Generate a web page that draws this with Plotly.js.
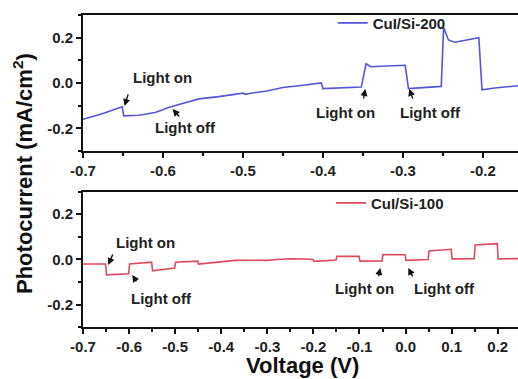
<!DOCTYPE html>
<html>
<head>
<meta charset="utf-8">
<script src="https://cdn.plot.ly/plotly-3.0.1.min.js"></script>
<style>html,body{margin:0;padding:0;background:#fff;}#chart{width:518px;height:379px;}</style>
</head>
<body>
<div id="chart"></div>
<script>
// CuI/Si-200 (top panel)
var v200 = [-0.700,-0.675,-0.651,-0.649,-0.630,-0.610,-0.600,-0.595,-0.580,-0.555,-0.530,-0.510,-0.500,-0.497,-0.490,-0.470,-0.450,-0.430,-0.402,-0.400,-0.380,-0.352,-0.346,-0.340,-0.320,-0.297,-0.293,-0.270,-0.252,-0.249,-0.243,-0.235,-0.220,-0.205,-0.201,-0.185,-0.156];
var j200 = [-0.160,-0.135,-0.105,-0.145,-0.142,-0.130,-0.118,-0.110,-0.095,-0.070,-0.060,-0.050,-0.045,-0.050,-0.045,-0.035,-0.020,-0.012,0.000,-0.025,-0.022,-0.018,0.085,0.072,0.075,0.078,-0.025,-0.020,-0.015,0.245,0.190,0.180,0.190,0.200,-0.030,-0.022,-0.012];
// CuI/Si-100 (bottom panel)
var v100 = [-0.700,-0.651,-0.649,-0.620,-0.601,-0.599,-0.575,-0.551,-0.549,-0.525,-0.501,-0.499,-0.475,-0.451,-0.449,-0.425,-0.400,-0.370,-0.330,-0.300,-0.280,-0.250,-0.220,-0.201,-0.199,-0.170,-0.151,-0.149,-0.120,-0.101,-0.099,-0.075,-0.051,-0.049,-0.020,-0.001,0.001,0.030,0.049,0.051,0.080,0.099,0.101,0.130,0.149,0.151,0.180,0.199,0.201,0.244];
var j100 = [-0.020,-0.020,-0.068,-0.066,-0.063,-0.020,-0.015,-0.012,-0.050,-0.045,-0.038,-0.012,-0.010,-0.007,-0.020,-0.015,-0.010,-0.004,-0.003,-0.004,0.000,0.003,0.002,0.000,-0.008,-0.004,-0.002,0.014,0.016,0.014,-0.007,-0.007,-0.006,0.022,0.023,0.021,-0.004,-0.002,0.000,0.038,0.043,0.045,0.003,0.003,0.004,0.064,0.068,0.070,0.003,0.004];
var names = ['CuI/Si-200','CuI/Si-100'];
// tick labels
var xTopVals = [-0.7,-0.6,-0.5,-0.4,-0.3,-0.2];
var xTopText = ['-0.7','-0.6','-0.5','-0.4','-0.3','-0.2'];
var xBotVals = [-0.7,-0.6,-0.5,-0.4,-0.3,-0.2,-0.1,0.0,0.1,0.2];
var xBotText = ['-0.7','-0.6','-0.5','-0.4','-0.3','-0.2','-0.1','0.0','0.1','0.2'];
var yVals = [-0.2,0.0,0.2];
var yText = ['-0.2','0.0','0.2'];
var xTitle = 'Voltage (V)';
var yTitle = 'Photocurrent (mA/cm<sup>2</sup>)';

var FONT = 'Liberation Sans, Arial, sans-serif';
var tickFont = {family: FONT, size: 15, color: '#222', weight: 'bold'};

function xax(range, anchor, vals, text){
  return {range: range, anchor: anchor, domain: [0,1], showline: true, linecolor: '#111', linewidth: 2, mirror: true,
    ticks: 'outside', ticklen: 5, tickwidth: 2, tickcolor: '#111', tickmode: 'array', tickvals: vals, ticktext: text,
    minor: {ticks: 'outside', ticklen: 3, tickwidth: 2, tickcolor: '#111', tickmode: 'linear', tick0: -0.7, dtick: 0.05},
    showgrid: false, zeroline: false, tickfont: tickFont};
}
function yax(domain, anchor){
  return {range: [-0.3, 0.3], domain: domain, anchor: anchor, showline: true, linecolor: '#111', linewidth: 2, mirror: false,
    ticks: 'outside', ticklen: 5, tickwidth: 2, tickcolor: '#111', tickmode: 'array', tickvals: yVals, ticktext: yText,
    minor: {ticks: 'outside', ticklen: 3, tickwidth: 2, tickcolor: '#111', tickmode: 'linear', tick0: 0, dtick: 0.1},
    showgrid: false, zeroline: false, tickfont: tickFont};
}

var traces = [
  {x: v200, y: j200, xaxis: 'x', yaxis: 'y', mode: 'lines', name: names[0], line: {color: '#5555d8', width: 1.6}, legend: 'legend'},
  {x: v100, y: j100, xaxis: 'x2', yaxis: 'y2', mode: 'lines', name: names[1], line: {color: '#e0485c', width: 1.6}, legend: 'legend2'}
];

var labFont = {family: FONT, size: 15, color: '#222', weight: 'bold'};
function lab(t, x, y, xr, yr){ return {text: t, x: x, y: y, xref: xr, yref: yr, xanchor: 'center', yanchor: 'middle', showarrow: false, font: labFont}; }
function arr(x, y, ax, ay, xr, yr){ return {text: '', x: x, y: y, xref: xr, yref: yr, showarrow: true, ax: ax, ay: ay,
  arrowhead: 2, arrowsize: 1, arrowwidth: 1.4, arrowcolor: '#111', standoff: 0, startstandoff: 0}; }

var annotations = [
  lab('Light on', -0.601, 0.026, 'x', 'y'), arr(-0.648, -0.101, 4, -13, 'x', 'y'),
  lab('Light off', -0.572, -0.198, 'x', 'y'), arr(-0.588, -0.115, 8, 9, 'x', 'y'),
  lab('Light on', -0.372, -0.132, 'x', 'y'), arr(-0.347, -0.026, -2, 11, 'x', 'y'),
  lab('Light off', -0.266, -0.128, 'x', 'y'), arr(-0.292, -0.026, 4, 11, 'x', 'y'),
  lab('Light on', -0.565, 0.073, 'x2', 'y2'), arr(-0.645, -0.024, 5, -12, 'x2', 'y2'),
  lab('Light off', -0.530, -0.170, 'x2', 'y2'), arr(-0.593, -0.068, 5, 8, 'x2', 'y2'),
  lab('Light on', -0.090, -0.126, 'x2', 'y2'), arr(-0.055, -0.037, -2, 10, 'x2', 'y2'),
  lab('Light off', 0.084, -0.126, 'x2', 'y2'), arr(0.006, -0.037, 5, 10, 'x2', 'y2'),
  {text: xTitle, x: (302 - 83)/435, y: 1 - 365/379, xref: 'paper', yref: 'paper', xanchor: 'center', yanchor: 'middle', showarrow: false, font: {family: FONT, size: 22, color: '#111', weight: 'bold'}},
  {text: yTitle, x: (23 - 83)/435, y: 1 - 174/379, xref: 'paper', yref: 'paper', xanchor: 'center', yanchor: 'middle', showarrow: false, textangle: -90, font: {family: FONT, size: 22, color: '#111', weight: 'bold'}}
];

var legFont = {family: FONT, size: 15, color: '#222', weight: 'bold'};
var layout = {
  width: 518, height: 379,
  margin: {l: 83, r: 0, t: 0, b: 0},
  paper_bgcolor: '#fff', plot_bgcolor: '#fff',
  xaxis: xax([-0.7, -0.156], 'y', xTopVals, xTopText),
  yaxis: yax([0.6016, 0.9604], 'x'),
  xaxis2: xax([-0.7, 0.244], 'y2', xBotVals, xBotText),
  yaxis2: yax([0.1359, 0.4947], 'x2'),
  showlegend: true,
  legend: {x: 0.574, y: 0.939, xanchor: 'left', yanchor: 'middle', bgcolor: 'rgba(0,0,0,0)', font: legFont, borderwidth: 0},
  legend2: {x: 0.57, y: 0.464, xanchor: 'left', yanchor: 'middle', bgcolor: 'rgba(0,0,0,0)', font: legFont, borderwidth: 0},
  annotations: annotations
};

Plotly.newPlot('chart', traces, layout, {displayModeBar: false, staticPlot: true});
</script>
</body>
</html>
